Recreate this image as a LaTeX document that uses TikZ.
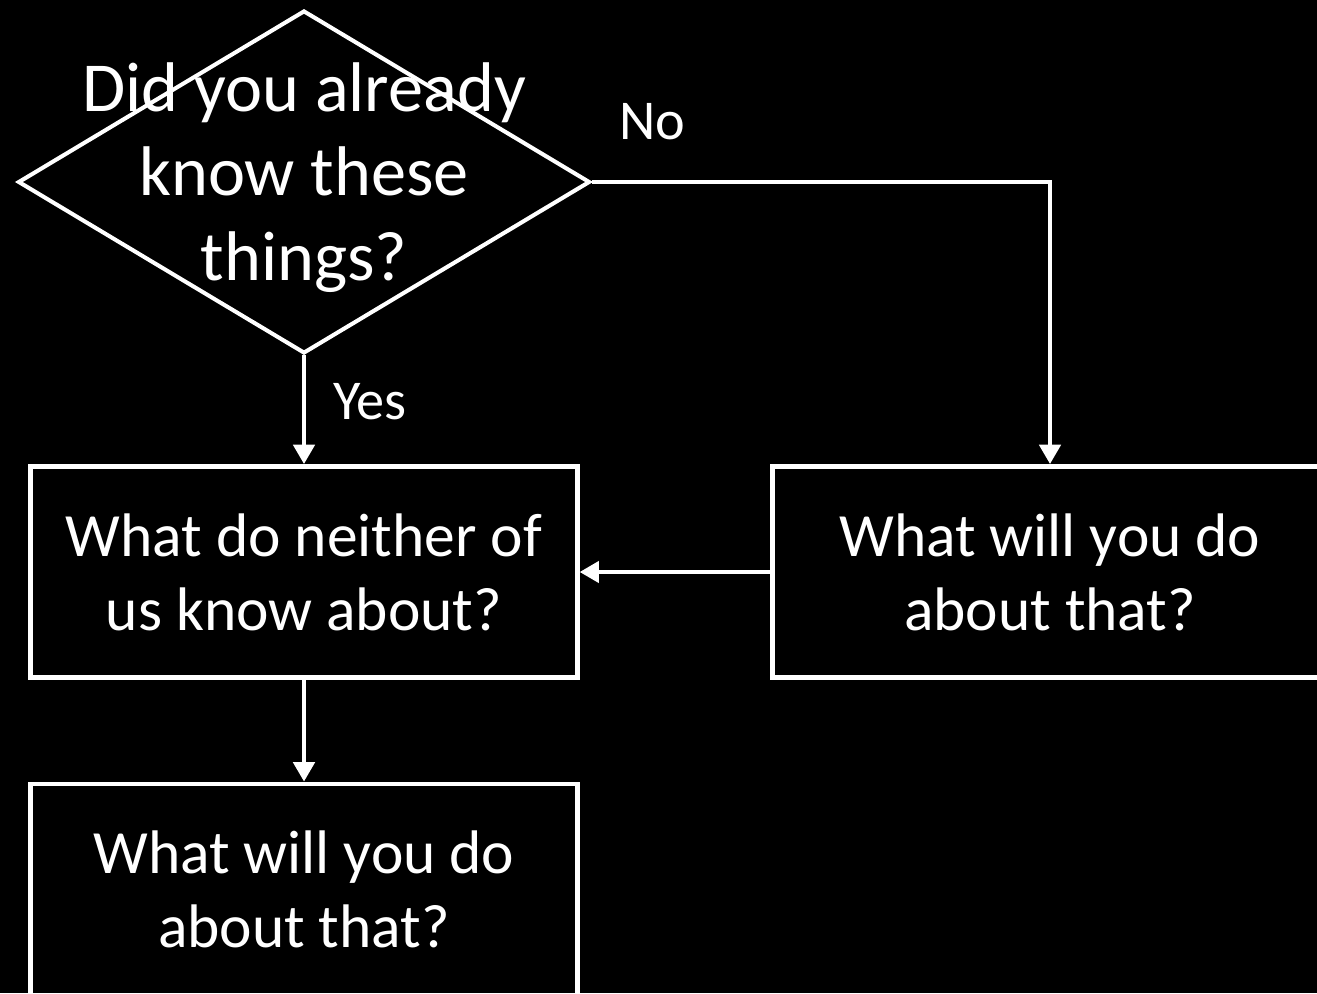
\documentclass[tikz,border=0pt]{standalone}
\usepackage{fontspec}
\setmainfont{Carlito}
\usepackage{tikz}
\usetikzlibrary{arrows.meta}
\usetikzlibrary{shapes.geometric}
\usetikzlibrary{positioning}

\newcommand{\nosize}[1]{\makebox[0pt]{\smash{\raisebox{-4.5pt}{\begin{tabular}{@{}c@{}}#1\end{tabular}}}}}

\begin{document}
\begin{tikzpicture}[x=0.02cm,y=-0.02cm,
		every node/.style={text=white},
		question/.style={diamond,draw=white,line width=2.3pt,inner sep=0pt,minimum width=11.44cm,minimum height=6.86cm,font=\fontsize{40}{48}\selectfont},
		answer/.style={rectangle,draw=white,line width=2.8pt,minimum width=10.93cm,minimum height=4.22cm,align=center,font=\fontsize{35}{42}\selectfont},
		choice/.style={font=\fontsize{32}{38}\selectfont},
		conn/.style={draw=white,line width=2.4pt,-{Triangle[length=11pt,width=12pt]}}]

			% black slide behind the chart
			\fill[black] (0,0) rectangle (1317,993);
			\useasboundingbox (0,0) rectangle (1317,993);

			\node[question] (q) at (304,182) {\nosize{Did you already\\know these\\things?}};
			\node[answer] (b1) at (304,572) {What do neither of\\us know about?};
			\node[answer, minimum width=11.1cm] (b2) at (1050,572) {What will you do\\about that?};
			\node[answer] (b3) at (304,889.5) {What will you do\\about that?};

			\node[choice] (yes) at (370,402) {Yes};
			\node[choice] (no) at (652,122) {No};

			\draw[conn] (q.south) -- (b1.north);
			\draw[conn] (q.east) -| (b2.north);
			\draw[conn] (b2.west) -- (b1.east);
			\draw[conn] (b1.south) -- (b3.north);
		\end{tikzpicture}
\end{document}
